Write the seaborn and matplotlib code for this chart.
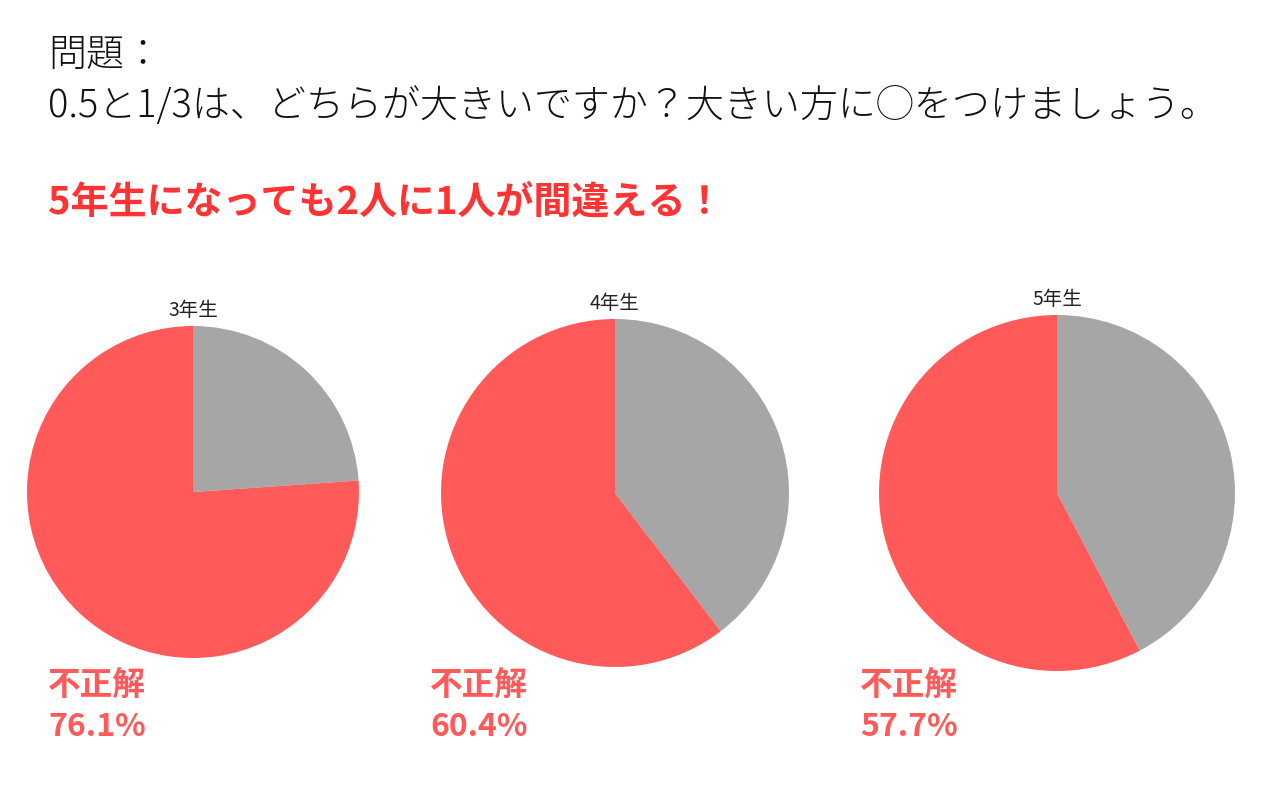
import matplotlib
matplotlib.use("Agg")
import matplotlib.pyplot as plt
import seaborn as sns

grades = ["3年生", "4年生", "5年生"]
wrong = [76.1, 60.4, 57.7]
right = [100 - w for w in wrong]
label_wrong = "不正解"

question_head = "問題："
question_text = "0.5と1/3は、どちらが大きいですか？大きい方に◯をつけましょう。"
headline = "5年生になっても2人に1人が間違える！"

sns.set_theme(style="white")
plt.rcParams["font.family"] = ["Noto Sans CJK JP", "DejaVu Sans"]

W, H = 1280, 808
fig = plt.figure(figsize=(W / 100, H / 100), dpi=100)
fig.patch.set_facecolor("white")

colors = ["#a6a6a6", "#ff5a5a"]

# pie boxes in pixels: center x, center y, radius
boxes = [(193, 492, 166), (615, 493, 174), (1057, 493, 178)]
text_x = [48, 430, 860]

for i, (cx, cy, r) in enumerate(boxes):
    ax = fig.add_axes([(cx - r) / W, (H - cy - r) / H, 2 * r / W, 2 * r / H])
    ax.pie([right[i], wrong[i]], colors=colors, startangle=90,
           counterclock=False, wedgeprops=dict(linewidth=0))
    ax.set_xlim(-1, 1)
    ax.set_ylim(-1, 1)
    ax.set_title(grades[i], fontsize=14, pad=7, color="#222222")
    fig.text(text_x[i] / W, 1 - 685 / H, label_wrong, fontsize=23.5,
             fontweight="bold", color="#ff5a5a", va="center", ha="left")
    fig.text(text_x[i] / W, 1 - 727 / H, f"{wrong[i]}%", fontsize=23,
             fontweight="bold", color="#ff5a5a", va="center", ha="left")

fig.text(48 / W, 1 - 55 / H, question_head, fontsize=27.4, color="#111111",
         fontweight="light", va="center", ha="left")
fig.text(48 / W, 1 - 106 / H, question_text, fontsize=27.4, color="#111111",
         fontweight="light", va="center", ha="left")
fig.text(48 / W, 1 - 202 / H, headline, fontsize=27.4, fontweight="bold",
         color="#ff3333", va="center", ha="left")

fig.savefig("out.png", dpi=100, facecolor="white")
